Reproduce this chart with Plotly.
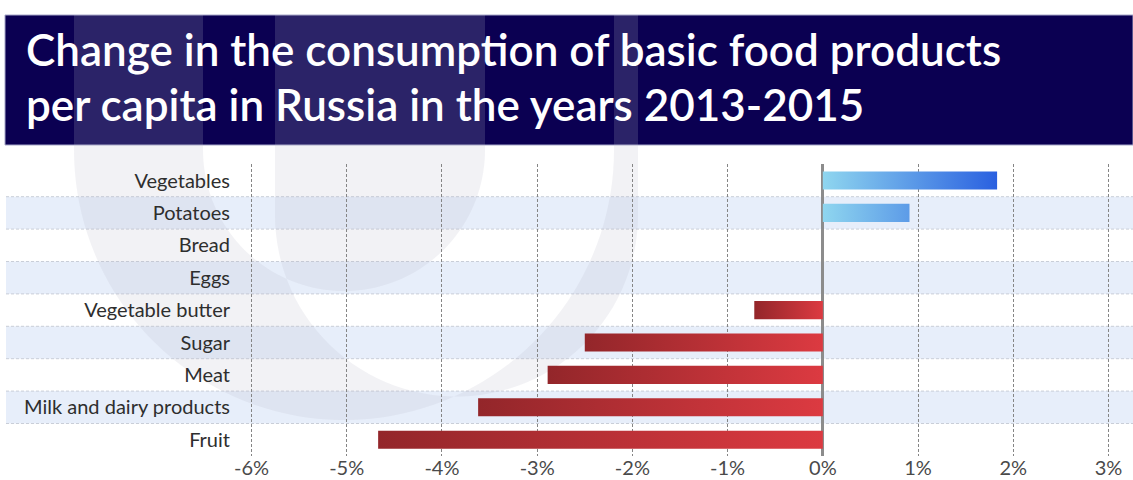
import numpy as np
import plotly.graph_objects as go

W, H = 1133, 480

# Data: change in per-capita consumption, 2013-2015 (%)
categories = ["Vegetables", "Potatoes", "Bread", "Eggs", "Vegetable butter",
              "Sugar", "Meat", "Milk and dairy products", "Fruit"]
change_pct = [1.83, 0.91, 0.0, 0.0, -0.72, -2.50, -2.89, -3.62, -4.67]
tick_values = [-6, -5, -4, -3, -2, -1, 0, 1, 2, 3]
tick_labels = ["-6%", "-5%", "-4%", "-3%", "-2%", "-1%", "0%", "1%", "2%", "3%"]
title_lines = ["Change in the consumption of basic food products",
               "per capita in Russia in the years 2013-2015"]

FONT = "Lato, 'Open Sans', sans-serif"
BAR_HALF = 0.28
pos_max = max(v for v in change_pct if v > 0)


def px(x, y):
    """Pixel position -> paper coordinates (margins are zero)."""
    return x / W, 1 - y / H


def u_path(x_left, x_right, y_top, y_mid, reverse=False, n=60):
    """U-shaped outline: vertical sides down to y_mid, half-circle bottom."""
    cx = (x_left + x_right) / 2
    r = (x_right - x_left) / 2
    pts = [(x_left, y_top), (x_left, y_mid)]
    for t in np.linspace(np.pi, 0, n):
        pts.append((cx + r * np.cos(t), y_mid + r * np.sin(t)))
    pts.append((x_right, y_top))
    if reverse:
        pts = pts[::-1]
    return pts


def ring_path(cx, cy, r_out, r_in, y_top, n=80):
    outer = [(cx - r_out, y_top)]
    for t in np.linspace(np.pi, 0, n):
        outer.append((cx + r_out * np.cos(t), cy + r_out * np.sin(t)))
    outer.append((cx + r_out, y_top))
    inner = [(cx - r_in, y_top)]
    for t in np.linspace(np.pi, 0, n):
        inner.append((cx + r_in * np.cos(t), cy + r_in * np.sin(t)))
    inner.append((cx + r_in, y_top))
    return outer, inner[::-1]


def to_svg(pts):
    s = ""
    for i, (x, y) in enumerate(pts):
        X, Y = px(x, y)
        s += ("M" if i == 0 else "L") + f"{X:.5f},{Y:.5f} "
    return s + "Z "


fig = go.Figure()

# Bars drawn as filled polygons so each can carry a colour gradient
for i, v in enumerate(change_pct):
    if v == 0:
        continue
    xs = [0, v, v, 0, 0]
    ys = [i - BAR_HALF, i - BAR_HALF, i + BAR_HALF, i + BAR_HALF, i - BAR_HALF]
    if v > 0:
        grad = dict(type="horizontal", start=0, stop=pos_max,
                    colorscale=[[0, "#8fd6ef"], [1, "#2a60e0"]])
    else:
        grad = dict(type="horizontal",
                    colorscale=[[0, "#93262a"], [1, "#dc3a41"]])
    fig.add_trace(go.Scatter(
        x=xs, y=ys, mode="lines", fill="toself", fillgradient=grad,
        line=dict(width=0), hoverinfo="skip", showlegend=False,
    ))

shapes = []

# Alternating row bands (full width, behind the grid)
x0p = 6 / W
for i in range(len(categories)):
    if i % 2 == 1:
        shapes.append(dict(type="rect", xref="paper", yref="y",
                           x0=x0p, x1=1, y0=i - 0.5, y1=i + 0.5,
                           fillcolor="#e7eefa", line=dict(width=0), layer="below"))
        for yy in (i - 0.5, i + 0.5):
            shapes.append(dict(type="line", xref="paper", yref="y",
                               x0=x0p, x1=1, y0=yy, y1=yy,
                               line=dict(color="#c9ced8", width=1, dash="3px,2px"),
                               layer="below"))

# Title banner
bx0, by0 = px(5, 15)
bx1, by1 = px(W, 145)
shapes.append(dict(type="rect", xref="paper", yref="paper",
                   x0=bx0, x1=bx1, y0=by1, y1=by0,
                   fillcolor="#0b0052", line=dict(color="#a7a7c8", width=1),
                   layer="below"))

# Faint logo watermark
outer, inner = ring_path(344, 150, 270, 141, 15)
disc = u_path(275, 638, 15, 215)
wm = to_svg(outer) + to_svg(inner) + to_svg(disc)
shapes.append(dict(type="path", xref="paper", yref="paper", path=wm,
                   fillcolor="rgba(188,188,200,0.19)", line=dict(width=0),
                   layer="below"))

annotations = []
tx, _ = px(24, 0)
for k, (line, yc) in enumerate(zip(title_lines, (49, 104))):
    _, ty = px(0, yc)
    annotations.append(dict(text=line, xref="paper", yref="paper",
                            x=tx, y=ty, xanchor="left", yanchor="middle",
                            showarrow=False,
                            font=dict(family=FONT, size=44, weight=600,
                                      color="white")))

# Axis geometry: -6% at 251.5px, 95.25px per percentage point
PLOT_L = 240
x_lo = -6 - (251.5 - PLOT_L) / 95.25
x_hi = 3 + (W - 1108.5) / 95.25
y_top_px, y_bot_px = 164.3, 455.9

fig.update_layout(
    width=W, height=H,
    margin=dict(l=0, r=0, t=0, b=0, autoexpand=False),
    paper_bgcolor="white", plot_bgcolor="rgba(0,0,0,0)",
    shapes=shapes, annotations=annotations,
    xaxis=dict(
        domain=[PLOT_L / W, 1], range=[x_lo, x_hi],
        tickvals=tick_values, ticktext=tick_labels,
        showgrid=True, gridcolor="#858585", gridwidth=1, griddash="3px,2px",
        zeroline=True, zerolinecolor="#8c8c8c", zerolinewidth=3,
        showline=False, ticks="", automargin=False,
        ticklabelstandoff=-2,
        tickfont=dict(family=FONT, size=20, color="#4a4a4a"),
        fixedrange=True,
    ),
    yaxis=dict(
        domain=[1 - y_bot_px / H, 1 - y_top_px / H],
        range=[len(categories) - 0.5, -0.5],
        tickvals=list(range(len(categories))), ticktext=categories,
        showgrid=False, zeroline=False, showline=False, ticks="",
        ticklabelstandoff=9, automargin=False,
        tickfont=dict(family=FONT, size=20, color="#2e2e2e"),
        fixedrange=True,
    ),
)

fig.write_html("out.html")
